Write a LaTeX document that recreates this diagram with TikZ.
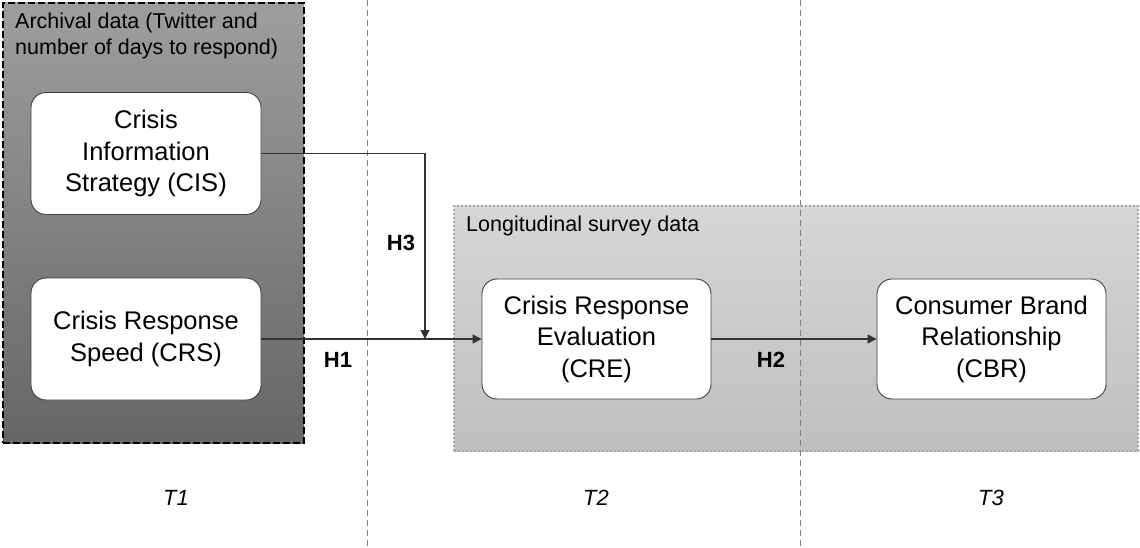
\documentclass[tikz,border=0pt]{standalone}
\usepackage{fontspec}
\setmainfont{Liberation Sans}
\usetikzlibrary{arrows.meta, positioning, backgrounds}

\begin{document}
\begin{tikzpicture}[
  x=1pt, y=1pt,
  line join=round,
  >=Triangle,
  flow/.style={-{Triangle[length=9pt, width=9pt]}, line width=1.1pt, draw=black!80},
  box/.style={
    draw=black!75, line width=0.9pt, rounded corners=15pt, fill=white,
    align=center, inner sep=0pt, minimum width=230, minimum height=122,
    font=\fontsize{25.5}{31.5}\selectfont
  },
  archgrp/.style={
    draw=black, dash pattern=on 7pt off 3pt, line width=2.4pt,
    top color=black!38, bottom color=black!60, inner sep=0pt
  },
  survgrp/.style={
    draw=black!35, dotted, line width=2pt,
    top color=black!16, bottom color=black!25, inner sep=0pt
  },
  grouplabel/.style={font=\fontsize{21.5}{26}\selectfont, align=left, inner sep=0pt},
  hyp/.style={font=\fontsize{22}{26}\selectfont\bfseries, inner sep=0pt},
  period/.style={font=\fontsize{22}{26}\selectfont\itshape, inner sep=0pt},
  split/.style={draw=black!50, dash pattern=on 6pt off 4pt, line width=0.8pt}
]
\useasboundingbox (0,0) rectangle (1140,-548);
\begin{scope}[on background layer]
  \node[archgrp, minimum width=301, minimum height=440] (arch) at (153.5,-223) {};
  \node[survgrp, minimum width=684, minimum height=245] (surv) at (796,-328.5) {};
\end{scope}
\node[grouplabel, anchor=north west] (archlbl) at (15,-12.5)
  {Archival data (Twitter and\\number of days to respond)};
\node[grouplabel, anchor=base west] (survlbl) at (466,-232)
  {Longitudinal survey data};
\coordinate (s1top) at (367,0);
\coordinate (s1bot) at (367,-548);
\coordinate (s2top) at (800,0);
\coordinate (s2bot) at (800,-548);
\draw[split] (s1top) -- (s1bot);
\draw[split] (s2top) -- (s2bot);
\node[box] (cis) at (146,-153.5) {Crisis\\Information\\Strategy (CIS)};
\node[box] (crs) at (146,-339)   {Crisis Response\\Speed (CRS)};
\node[box, minimum width=229, minimum height=120] (cre) at (596.5,-339)
  {Crisis Response\\Evaluation\\(CRE)};
\node[box, minimum width=229, minimum height=120] (cbr) at (991.5,-339)
  {Consumer Brand\\Relationship\\(CBR)};
\coordinate (h3end) at (425,-339);
\draw[flow] (crs.east) -- (cre.west);
\draw[flow] (cis.east) -| (h3end);
\draw[flow] (cre.east) -- (cbr.west);
\node[hyp] (h1) at (338,-360) {H1};
\node[hyp] (h2) at (771,-360) {H2};
\node[hyp] (h3) at (401,-243) {H3};
\node[period] (t1) at (176,-498) {T1};
\node[period] (t2) at (596,-498) {T2};
\node[period] (t3) at (991,-498) {T3};
\end{tikzpicture}
\end{document}
